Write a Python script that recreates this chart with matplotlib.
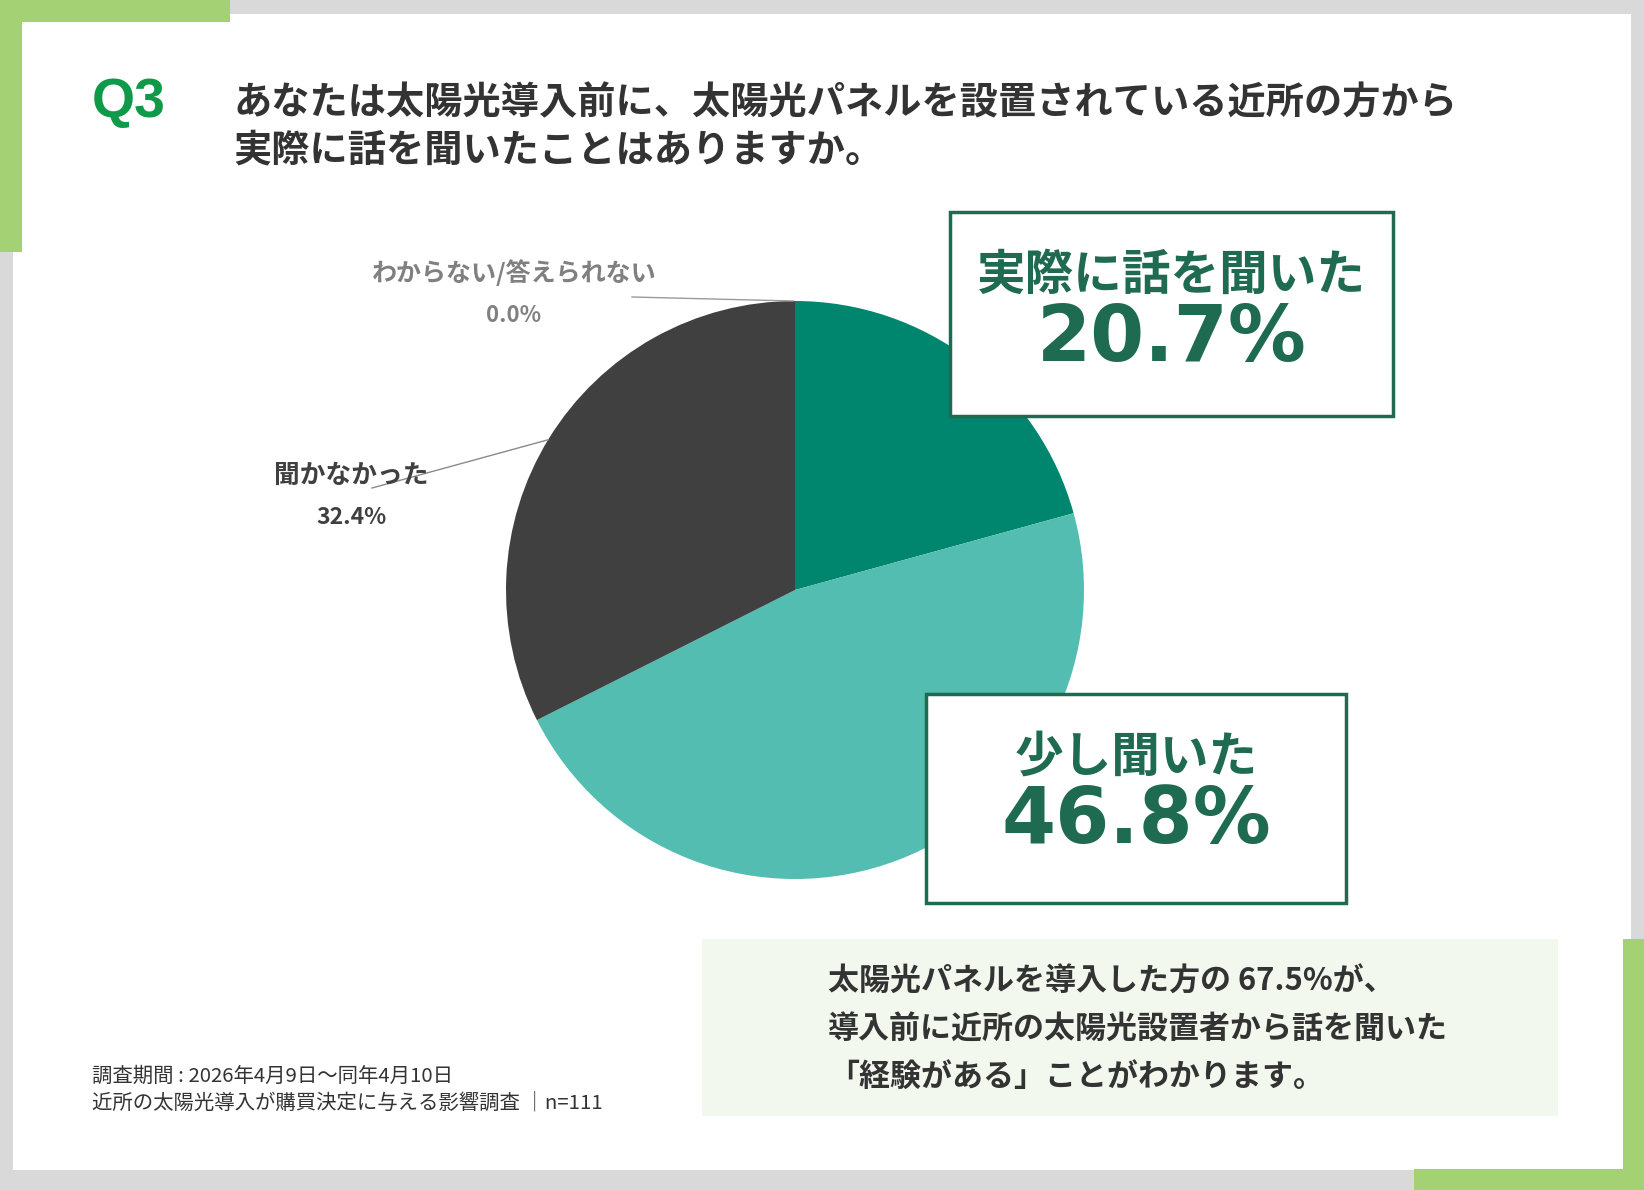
import numpy as np
import matplotlib.pyplot as plt
import matplotlib.patches as mpatches

plt.rcParams['font.family'] = ['Noto Sans CJK JP', 'DejaVu Sans']

# data
labels = ['実際に話を聞いた', '少し聞いた', '聞かなかった', 'わからない/答えられない']
values = [20.7, 46.8, 32.4, 0.0]
colors = ['#00866f', '#52bdb0', '#404040', '#bfbfbf']

title_lines = ['あなたは太陽光導入前に、太陽光パネルを設置されている近所の方から',
               '実際に話を聞いたことはありますか。']
note_lines = ['太陽光パネルを導入した方の 67.5%が、',
              '導入前に近所の太陽光設置者から話を聞いた',
              '「経験がある」ことがわかります。']
foot_lines = ['調査期間 : 2026年4月9日～同年4月10日',
              '近所の太陽光導入が購買決定に与える影響調査 │n=111']

W, H = 1644, 1190
GREEN = '#a3d173'
GRAY = '#d9d9d9'
DKGREEN = '#1e6b52'


def Y(y):
    return H - y


def rect(ax, x0, y0, x1, y1, **kw):
    ax.add_patch(mpatches.Rectangle((x0, Y(y1)), x1 - x0, y1 - y0, **kw))


fig = plt.figure(figsize=(W / 100, H / 100), dpi=100, facecolor=GRAY)
ax = fig.add_axes([0, 0, 1, 1])

# pie
cx, cy, r = 795, 590, 289
wedges, _ = ax.pie(values, colors=colors, startangle=90, counterclock=False,
                   radius=r, center=(cx, Y(cy)),
                   wedgeprops=dict(linewidth=0))
for w in wedges:
    w.set_zorder(3)

ax.set_xlim(0, W)
ax.set_ylim(0, H)
ax.set_aspect('auto')
ax.axis('off')

# frame
rect(ax, 13, 14, 1631, 1170, facecolor='white', edgecolor='none', zorder=0)
rect(ax, 0, 0, 230, 22, facecolor=GREEN, edgecolor='none', zorder=1)
rect(ax, 0, 0, 22, 252, facecolor=GREEN, edgecolor='none', zorder=1)
rect(ax, 1623, 939, 1644, 1190, facecolor=GREEN, edgecolor='none', zorder=1)
rect(ax, 1414, 1169, 1644, 1190, facecolor=GREEN, edgecolor='none', zorder=1)

# title
ax.text(92, Y(103), 'Q3', family='Liberation Sans', fontweight='bold',
        fontsize=40, color='#0f9a4a', va='center', ha='left')
for i, line in enumerate(title_lines):
    ax.text(233, Y(103 + 47 * i), line, fontsize=27.5, fontweight='bold',
            color='#333333', va='center', ha='left')

# pie side labels with leader lines
cum = np.cumsum([0] + values[:-1])
mid = [(c + v / 2) / 100 * 360 for c, v in zip(cum, values)]


def edge(i):
    a = np.deg2rad(mid[i])
    return cx + r * np.sin(a), cy - r * np.cos(a)


ex, ey = edge(3)
ax.plot([632, ex], [Y(297), Y(ey)], color='#9a9a9a', lw=1, zorder=4)
ax.text(514, Y(273), labels[3], fontsize=18, fontweight='bold',
        color='#808080', ha='center', va='center')
ax.text(514, Y(316), f'{values[3]:.1f}%', fontsize=16, fontweight='bold',
        color='#808080', ha='center', va='center')

ex, ey = edge(2)
ax.plot([372, ex], [Y(488), Y(ey)], color='#8a8a8a', lw=1, zorder=4)
ax.text(351, Y(475), labels[2], fontsize=18.5, fontweight='bold',
        color='#404040', ha='center', va='center', zorder=5)
ax.text(351, Y(518), f'{values[2]:.1f}%', fontsize=16.5, fontweight='bold',
        color='#404040', ha='center', va='center')

# callout boxes
boxes = [(0, 950, 212, 1393, 416), (1, 926, 694, 1346, 903)]
for i, x0, y0, x1, y1 in boxes:
    rect(ax, x0, y0, x1, y1, facecolor='white', edgecolor=DKGREEN,
         linewidth=2.5, zorder=6)
    xc = (x0 + x1) / 2
    ax.text(xc, Y(y0 + 63), labels[i], fontsize=35, fontweight='bold',
            color=DKGREEN, ha='center', va='center', zorder=7)
    ax.text(xc, Y(y0 + 127), f'{values[i]:.1f}%', family='DejaVu Sans',
            fontsize=56, fontweight='bold', color=DKGREEN,
            ha='center', va='center', zorder=7)

# note box
rect(ax, 702, 939, 1558, 1116, facecolor='#f3f8ee', edgecolor='none', zorder=1)
for i, line in enumerate(note_lines):
    ax.text(828, Y(982 + 47.5 * i), line, fontsize=22.3, fontweight='bold',
            color='#333333', ha='left', va='center', zorder=2)

# footnote
for i, line in enumerate(foot_lines):
    ax.text(92, Y(1076 + 27 * i), line, fontsize=14.7, color='#333333',
            ha='left', va='center')

fig.savefig('out.png', dpi=100, facecolor=GRAY)
